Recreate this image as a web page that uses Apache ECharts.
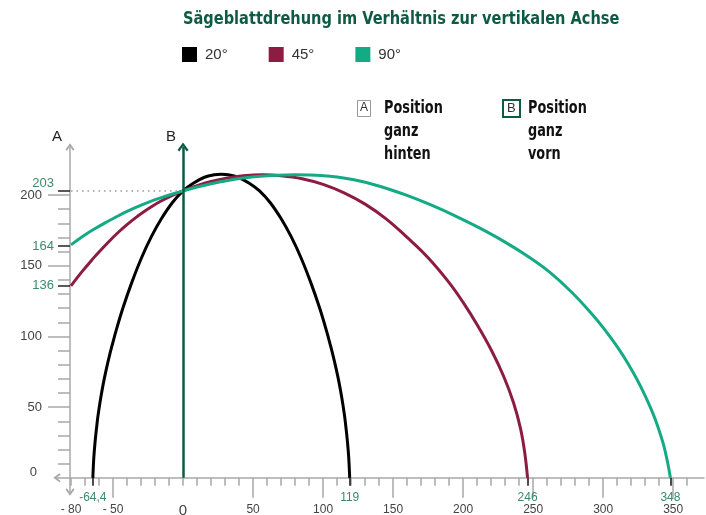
<!DOCTYPE html>
<html>
<head>
<meta charset="utf-8">
<script src="https://cdn.jsdelivr.net/npm/echarts@6/dist/echarts.min.js"></script>
<style>
  html, body { margin: 0; padding: 0; background: #fff; }
  #chart { width: 706px; height: 515px; }
</style>
</head>
<body>
<div id="chart"></div>
<script>
// Schnittbreite (x) und Schnitthöhe (y) je Sägeblattdrehung
const seriesNames = ['20°', '45°', '90°'];
const seriesColors = ['#000000', '#8c1c42', '#14ab84'];

const curve20 = [
  [-64.4, 0], [-63.7, 14.5], [-62.7, 26.5], [-61.7, 35.8], [-60.7, 44.1], [-58.7, 57],
  [-56.7, 67.9], [-54.7, 77.3], [-52.7, 85.8], [-50.7, 93.5], [-47.7, 104.5], [-42.7, 120.8],
  [-36.7, 137.9], [-29.7, 155.5], [-22.7, 170.4], [-15.7, 182.9], [-7.7, 194.6], [0, 203],
  [7.3, 208.4], [15.3, 212.6], [22.3, 214.4], [27.3, 214.8], [32.3, 214.4], [39.3, 212.6],
  [47.3, 208.4], [54.6, 203], [62.3, 194.6], [70.3, 182.9], [77.3, 170.4], [84.3, 155.5],
  [91.3, 137.9], [97.3, 120.8], [102.3, 104.5], [105.3, 93.5], [107.3, 85.8], [109.3, 77.3],
  [111.3, 67.9], [113.3, 57], [115.3, 44.1], [116.3, 35.8], [117.3, 26.5], [118.3, 14.5], [119, 0]
];
const curve45 = [
  [-80, 135.8], [-72, 146], [-64, 155.4], [-60, 159.8], [-52, 168.1], [-46, 173.9],
  [-40, 179.1], [-34, 183.9], [-28, 188.2], [-22, 192.1], [-16, 195.6], [-8, 199.6],
  [0, 203], [10, 206.6], [20, 209.6], [31, 212], [43, 213.6], [57, 214.3], [70, 213.7],
  [85, 211.6], [100, 207.6], [115, 201.6], [130, 193.6], [145, 183.2], [160, 170.1],
  [175, 155.7], [190, 138.1], [200, 124.1], [210, 108.3], [220, 90.6], [229, 71.7],
  [236, 53.1], [241, 34.8], [244, 17.8], [246, 0]
];
const curve90 = [
  [-80, 164.8], [-72, 170.5], [-64, 175.6], [-56, 180.2], [-48, 184.4], [-40, 188.4],
  [-32, 192], [-24, 195.2], [-16, 198], [-8, 200.6], [0, 203], [10, 205.7], [20, 208],
  [30, 210], [43, 212], [55, 213.3], [67, 214], [80, 214.3], [91, 214.2], [105, 213.3],
  [123, 210.6], [141, 206.1], [159, 200.1], [177, 193], [195, 185], [212, 176.6],
  [230, 166.7], [248, 155.5], [262, 145.3], [277, 131.8], [291, 117], [300, 106.3],
  [310, 92.8], [318, 80.4], [324, 69.9], [330, 58], [335, 46.8], [339, 36.4], [343, 23.8],
  [346, 11], [348, 0]
];

// Achsenbeschriftung
const xMainLabels = [-80, -50, 0, 50, 100, 150, 200, 250, 300, 350];
const xMajorTicks = [-50, 50, 100, 150, 200, 250, 300, 350];
const xMinorTicks = [-80, -70, -60, -50, -40, -30, -20, -10, 0, 10, 20, 30, 40, 50, 60, 70, 80, 90,
  100, 110, 120, 130, 140, 150, 160, 170, 180, 190, 200, 210, 220, 230, 240, 250, 260, 270,
  280, 290, 300, 310, 320, 330, 340, 350, 360];
const xEndValues = [-64.4, 119, 246, 348];
const yMainLabels = [0, 50, 100, 150, 200];
const yMajorTicks = [50, 100, 150, 200];
const yMinorTicks = [10, 20, 30, 40, 60, 70, 80, 90, 110, 120, 130, 140, 160, 170, 180, 190];
const yMarkValues = [136, 164, 203];
const crossValue = 203;

const chart = echarts.init(document.getElementById('chart'));

const gray = '#a8a8a8';
const labelGreen = '#3b8a6c';
const darkGreen = '#0d5b45';
const baseFont = 'Liberation Sans';
const narrowFont = '"DejaVu Sans Condensed", sans-serif';
// offener Pfeil (Winkel), zeigt nach oben
const chevron = 'path://M5,0 L10,7 L8.4,8.3 L5,3.4 L1.6,8.3 L0,7 Z';

const X_MIN = -90, X_MAX = 372, Y_MIN = -10, Y_MAX = 234;

function xAxisBase(extra) {
  return Object.assign({
    type: 'value',
    min: X_MIN,
    max: X_MAX,
    position: 'bottom',
    splitLine: { show: false },
    axisLine: { show: false, onZero: true, onZeroAxisIndex: 0 },
    axisTick: { show: false },
    axisLabel: { show: false }
  }, extra);
}
function yAxisBase(extra) {
  return Object.assign({
    type: 'value',
    min: Y_MIN,
    max: Y_MAX,
    position: 'left',
    offset: -13,
    splitLine: { show: false },
    axisLine: { show: false, onZero: false },
    axisTick: { show: false },
    axisLabel: { show: false }
  }, extra);
}

function curveSeries(i, data, extra) {
  return Object.assign({
    name: seriesNames[i],
    type: 'line',
    data: data,
    smooth: 0.4,
    showSymbol: false,
    lineStyle: { width: 3, color: seriesColors[i] },
    itemStyle: { color: seriesColors[i] }
  }, extra);
}

const option = {
  animation: false,
  backgroundColor: '#fff',
  legend: {
    data: seriesNames,
    left: 182,
    top: 47,
    padding: 0,
    icon: 'rect',
    itemWidth: 15,
    itemHeight: 15,
    itemGap: 41,
    textStyle: { fontFamily: baseFont, fontSize: 15, color: '#333', padding: [0, 0, 0, 3] }
  },
  grid: { left: 57, right: 2, top: 147, bottom: 23, outerBoundsMode: 'none' },
  xAxis: [
    xAxisBase({
      axisLine: {
        show: true, onZero: true, onZeroAxisIndex: 0,
        symbol: [chevron, 'none'], symbolSize: [9, 8],
        lineStyle: { color: gray, width: 1.5 }
      },
      axisTick: { show: true, customValues: xMajorTicks, length: 20, lineStyle: { color: gray, width: 1.5 } },
      axisLabel: {
        show: true,
        customValues: xMainLabels,
        margin: 12,
        fontFamily: baseFont,
        fontSize: 12,
        color: '#444',
        formatter: v => v < 0 ? '- ' + (-v) : (v === 0 ? '{z|0}' : String(v)),
        rich: { z: { fontSize: 15, lineHeight: 14, fontFamily: baseFont, color: '#444' } }
      }
    }),
    xAxisBase({
      axisTick: { show: true, customValues: xMinorTicks, length: 8, lineStyle: { color: gray, width: 1.5 } },
      axisLabel: {
        show: true,
        customValues: xEndValues,
        margin: 0,
        fontFamily: baseFont,
        fontSize: 12,
        color: labelGreen,
        formatter: v => String(v).replace('.', ',')
      }
    }),
    xAxisBase({
      axisTick: { show: true, customValues: xEndValues, length: 8, lineStyle: { color: '#111', width: 1.5 } }
    })
  ],
  yAxis: [
    yAxisBase({
      axisLine: {
        show: true, onZero: false,
        symbol: [chevron, chevron], symbolSize: [9, 8],
        lineStyle: { color: gray, width: 1.5 }
      },
      axisTick: { show: true, customValues: yMajorTicks, length: 22, lineStyle: { color: gray, width: 1.5 } },
      axisLabel: {
        show: true,
        customValues: yMainLabels,
        margin: 28,
        fontFamily: baseFont,
        fontSize: 13,
        color: '#444',
        formatter: v => v === 0 ? '{lo|0}' : String(v),
        rich: { lo: { fontSize: 13, fontFamily: baseFont, color: '#444', padding: [0, 5, 10, 0] } }
      }
    }),
    yAxisBase({
      axisTick: { show: true, customValues: yMinorTicks, length: 12, lineStyle: { color: gray, width: 1.5 } },
      axisLabel: {
        show: true,
        customValues: yMarkValues,
        margin: 16,
        fontFamily: baseFont,
        fontSize: 13,
        color: labelGreen,
        formatter: v => v === crossValue ? '{up|' + v + '}' : String(v),
        rich: { up: { fontSize: 13, fontFamily: baseFont, color: labelGreen, padding: [0, 0, 14, 0] } }
      }
    }),
    yAxisBase({
      axisTick: { show: true, customValues: yMarkValues, length: 12, lineStyle: { color: '#222', width: 1.5 } }
    })
  ],
  series: [
    curveSeries(0, curve20, {
      markLine: {
        silent: true,
        symbol: 'none',
        label: { show: false },
        data: [
          [
            { coord: [-80, crossValue], lineStyle: { color: '#999', width: 1.5, type: [1.5, 4] } },
            { coord: [0, crossValue] }
          ],
          [
            { coord: [0, 0], symbol: 'none', lineStyle: { color: darkGreen, width: 2.5, type: 'solid' } },
            { coord: [0, Y_MAX], symbol: chevron, symbolSize: [11, 9] }
          ]
        ]
      }
    }),
    curveSeries(1, curve45),
    curveSeries(2, curve90)
  ],
  graphic: [
    {
      type: 'text', x: 183, y: 10, scaleX: 0.9,
      style: { text: 'Sägeblattdrehung im Verhältnis zur vertikalen Achse', fontFamily: narrowFont, fontWeight: 'bold', fontSize: 18, fill: darkGreen }
    },
    { type: 'text', left: 52, top: 129, style: { text: 'A', fontFamily: baseFont, fontSize: 15, fill: '#222' } },
    { type: 'text', left: 166, top: 129, style: { text: 'B', fontFamily: baseFont, fontSize: 15, fill: '#222' } },
    { type: 'rect', shape: { x: 357.5, y: 100.5, width: 13, height: 16 }, style: { fill: '#fff', stroke: '#999', lineWidth: 1 } },
    { type: 'text', left: 360, top: 102, style: { text: 'A', fontFamily: baseFont, fontSize: 12, fill: '#333' } },
    { type: 'text', x: 384, y: 97, scaleX: 0.84, style: { text: 'Position\nganz\nhinten', fontFamily: narrowFont, fontWeight: 'bold', fontSize: 17, lineHeight: 23, fill: '#111' } },
    { type: 'rect', shape: { x: 503, y: 100, width: 17, height: 17 }, style: { fill: '#fff', stroke: darkGreen, lineWidth: 2 } },
    { type: 'text', left: 507, top: 102, style: { text: 'B', fontFamily: baseFont, fontSize: 13, fill: '#333' } },
    { type: 'text', x: 528, y: 97, scaleX: 0.84, style: { text: 'Position\nganz\nvorn', fontFamily: narrowFont, fontWeight: 'bold', fontSize: 17, lineHeight: 23, fill: '#111' } }
  ]
};

chart.setOption(option);
</script>
</body>
</html>
